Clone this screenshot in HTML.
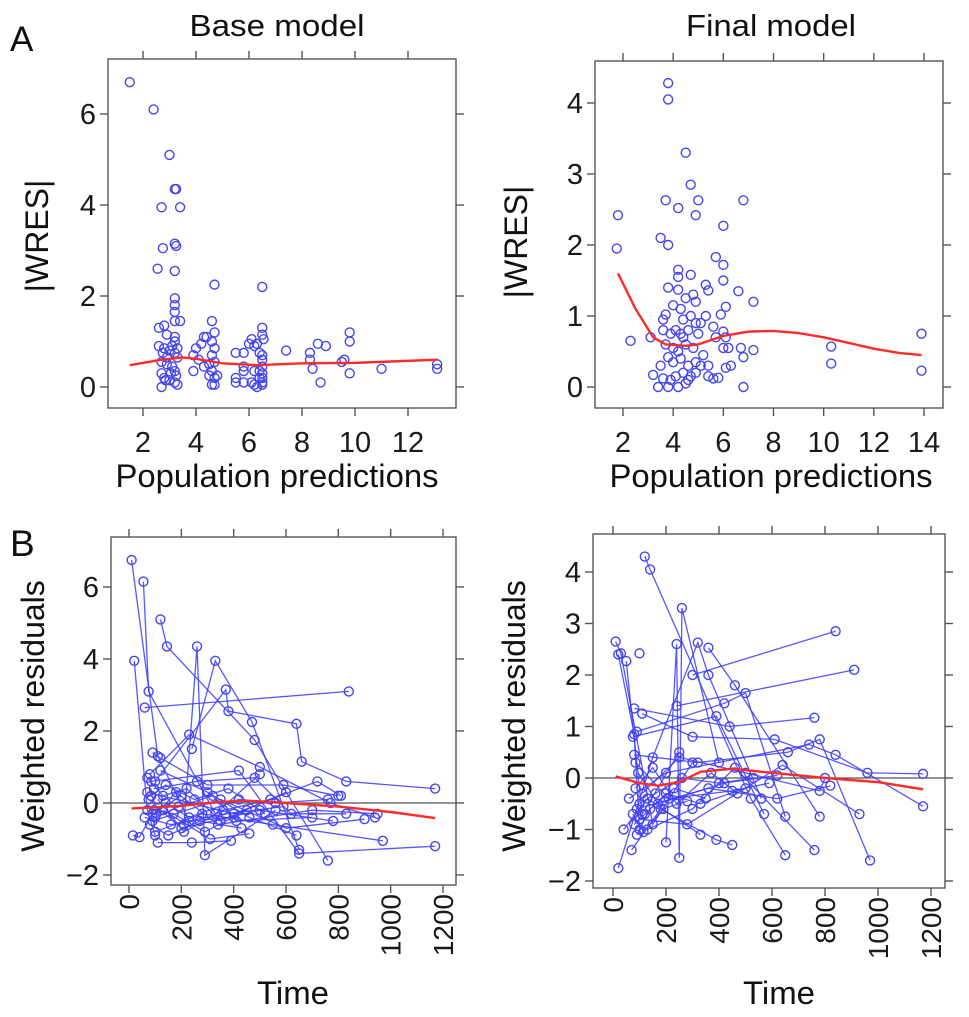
<!DOCTYPE html>
<html><head><meta charset="utf-8">
<style>
html,body{margin:0;padding:0;background:#fff;}
svg{display:block;font-family:"Liberation Sans",Arial,sans-serif;}
</style></head>
<body>
<svg id="fig" width="969" height="1017" viewBox="0 0 969 1017" xmlns="http://www.w3.org/2000/svg">
<text x="10" y="51" font-size="35" fill="#111">A</text>
<text x="10" y="556" font-size="37" fill="#111">B</text>
<text x="277" y="36" font-size="31" text-anchor="middle" textLength="175" lengthAdjust="spacingAndGlyphs" fill="#111">Base model</text>
<text x="771" y="36" font-size="31" text-anchor="middle" textLength="170" lengthAdjust="spacingAndGlyphs" fill="#111">Final model</text>
</svg>
<script>
// ---------- data ----------
const aBasePts = [[1.5,6.7],[2.4,6.1],[3.0,5.1],[3.2,4.35],[3.25,4.35],[2.7,3.95],[3.4,3.95],[2.75,3.05],[3.2,3.15],[3.25,3.1],[2.55,2.6],[3.2,2.55],[4.7,2.25],[6.5,2.2],[3.2,1.95],[3.2,1.8],[3.2,1.65],[3.4,1.45],[3.2,1.45],[2.6,1.3],[2.8,1.35],[2.9,1.15],[3.2,1.1],[3.2,1.0],[2.6,0.9],[2.8,0.85],[3.0,0.8],[3.2,0.75],[3.3,0.65],[2.7,0.55],[2.9,0.5],[3.1,0.45],[3.2,0.35],[2.7,0.3],[2.8,0.2],[3.0,0.15],[3.2,0.1],[2.7,0.0],[3.3,0.05],[2.9,0.65],[3.1,0.9],[3.3,0.85],[2.75,0.75],[3.05,0.3],[2.85,0.15],[3.25,0.25],[3.9,0.7],[4.1,0.6],[3.9,0.35],[4.0,0.85],[4.2,0.95],[4.3,1.1],[4.4,1.1],[4.6,1.45],[4.7,1.2],[4.6,1.0],[4.7,0.85],[4.6,0.7],[4.7,0.55],[4.5,0.5],[4.3,0.45],[4.6,0.35],[4.7,0.2],[4.6,0.05],[4.7,0.05],[4.5,0.25],[4.8,0.25],[5.5,0.75],[5.8,0.75],[5.5,0.2],[5.5,0.1],[5.8,0.1],[5.8,0.45],[5.8,0.35],[6.0,0.95],[6.1,1.05],[6.2,0.9],[6.3,0.95],[6.2,0.35],[6.1,0.1],[6.2,0.05],[6.3,0.0],[6.4,0.75],[6.5,1.3],[6.5,1.15],[6.55,1.05],[6.5,0.7],[6.5,0.6],[6.5,0.45],[6.5,0.3],[6.5,0.2],[6.5,0.1],[6.5,0.05],[6.4,0.2],[6.4,0.35],[7.4,0.8],[8.3,0.75],[8.3,0.6],[8.4,0.4],[8.6,0.95],[8.9,0.9],[8.7,0.1],[9.5,0.55],[9.6,0.6],[9.8,1.2],[9.8,1.0],[9.8,0.3],[11.0,0.4],[13.1,0.5],[13.1,0.4]];
const aBaseSmooth = [[1.5,0.48],[2.7,0.6],[3.5,0.65],[4.0,0.62],[5.0,0.52],[6.3,0.48],[8.0,0.52],[10.0,0.53],[13.1,0.6]];
const aFinalPts = [[1.8,2.42],[1.75,1.95],[2.3,0.65],[3.1,0.7],[3.8,4.28],[3.8,4.05],[4.5,3.3],[4.7,2.85],[3.7,2.63],[4.2,2.52],[5.0,2.63],[4.9,2.42],[6.8,2.63],[6.0,2.27],[3.5,2.1],[3.8,2.0],[5.7,1.83],[6.0,1.72],[4.2,1.65],[4.2,1.55],[4.7,1.58],[3.8,1.4],[4.2,1.37],[5.3,1.44],[5.4,1.36],[6.0,1.5],[6.6,1.35],[7.2,1.2],[6.1,1.13],[5.9,1.02],[5.3,1.0],[4.0,1.15],[4.3,1.1],[4.5,1.25],[4.8,1.3],[4.9,1.2],[3.7,1.02],[3.6,0.95],[4.4,0.95],[4.7,1.0],[4.9,0.9],[5.1,0.9],[3.6,0.8],[3.9,0.75],[4.1,0.8],[4.3,0.75],[4.4,0.7],[4.6,0.8],[5.0,0.75],[5.6,0.85],[5.7,0.7],[6.0,0.78],[6.1,0.7],[3.7,0.6],[4.0,0.55],[4.2,0.5],[4.5,0.6],[4.8,0.55],[5.2,0.45],[6.0,0.55],[6.2,0.55],[3.5,0.3],[3.8,0.42],[4.0,0.35],[4.3,0.4],[4.6,0.3],[4.9,0.35],[5.1,0.3],[5.4,0.3],[3.2,0.17],[3.6,0.12],[3.9,0.1],[4.1,0.15],[4.4,0.2],[4.7,0.15],[4.9,0.2],[3.4,0.0],[3.8,0.0],[4.2,0.0],[4.5,0.05],[4.6,0.1],[5.4,0.15],[5.6,0.12],[5.8,0.13],[6.1,0.27],[6.3,0.3],[6.7,0.55],[6.8,0.42],[7.2,0.52],[6.8,0.0],[10.3,0.57],[10.3,0.33],[13.9,0.75],[13.9,0.23]];
const aFinalSmooth = [[1.8,1.6],[2.5,1.1],[3.2,0.7],[3.7,0.6],[4.5,0.58],[5.0,0.6],[6.0,0.72],[7.0,0.78],[8.0,0.79],[9.0,0.76],[10.0,0.7],[11.0,0.62],[12.0,0.54],[13.0,0.48],[13.9,0.45]];
const bBaseSubjects = [
[[10,6.75],[110,1.3],[230,-0.5],[400,-0.4]],
[[55,6.15],[75,3.1],[330,-0.3],[500,0.8]],
[[20,3.95],[70,-0.2],[100,-0.9]],
[[60,2.65],[840,3.1]],
[[120,5.1],[145,4.35],[480,1.75],[760,-1.6]],
[[210,-0.6],[260,4.35],[290,-1.45],[560,-0.2]],
[[240,1.5],[330,3.95],[470,2.25],[650,-1.3]],
[[100,0.6],[370,3.15],[380,2.55],[640,2.2],[660,1.15],[830,0.6],[1170,0.4]],
[[15,-0.9],[40,-0.95],[90,-0.3],[200,0.2]],
[[90,1.4],[120,1.25],[300,0.5],[590,0.5],[800,0.2]],
[[80,0.8],[230,1.9],[500,1.0],[770,0.0],[940,-0.4]],
[[85,0.6],[420,0.9],[650,-1.4],[1170,-1.2]],
[[100,-0.8],[280,-0.3],[550,-0.6],[970,-1.05]],
[[70,0.3],[400,-0.3],[720,0.6],[810,0.2]],
[[90,-0.5],[350,0.1],[600,-0.7],[900,-0.45]],
[[110,-1.1],[240,-1.1],[390,-1.05]],
[[130,-0.2],[310,-1.0],[460,-0.85]],
[[75,0.1],[200,-0.7],[500,-0.2],[780,-0.5]],
[[95,0.4],[260,0.6],[480,0.7],[620,-0.3],[830,-0.3]],
[[105,-0.3],[180,0.3],[340,-0.6],[700,-0.2],[950,-0.3]],
[[140,0.0],[230,-0.4],[420,0.1],[560,0.0],[760,0.1]],
[[60,-0.4],[160,-0.6],[370,-0.3],[590,-0.1]],
[[120,0.9],[300,0.3],[460,-0.4],[640,-0.9]],
[[80,-0.6],[150,-0.9],[270,-0.5],[430,-0.7]],
[[85,0.2],[140,0.5],[250,0.1],[380,0.4],[520,-0.3]],
[[95,-0.2],[170,-0.3],[290,-0.8],[450,-0.2]],
[[70,0.7],[130,0.2],[220,0.4],[350,-0.5],[600,0.3]],
[[100,-0.4],[190,-0.1],[320,0.2],[410,-0.5],[700,-0.4]],
[[110,0.1],[210,-0.8],[360,-0.2],[540,0.1]]
];
const bBaseSmooth = [[10,-0.15],[100,-0.12],[200,-0.08],[300,0.0],[400,0.05],[460,0.06],[600,0.0],[800,-0.1],[1000,-0.25],[1170,-0.42]];
const bFinalSubjects = [
[[10,2.65],[30,2.42],[150,-0.9],[300,0.3]],
[[20,2.4],[80,0.85],[100,-1.0]],
[[50,2.27],[110,-0.7],[250,0.5]],
[[120,4.3],[140,4.05],[520,-0.4],[650,-1.5]],
[[100,2.42]],
[[200,-1.25],[240,2.6],[250,-1.55],[260,3.3],[400,0.3]],
[[20,-1.75],[150,0.4],[320,2.63],[360,2.0],[560,-0.4]],
[[360,2.53],[460,1.8],[780,-0.75]],
[[300,2.0],[840,2.85]],
[[240,1.4],[910,2.1]],
[[80,1.35],[440,1.0],[760,1.17]],
[[110,1.25],[300,0.8],[610,0.75],[960,0.1],[1170,0.08]],
[[90,0.9],[420,1.45],[500,1.65],[650,-0.75]],
[[75,0.8],[390,1.2],[570,-0.7]],
[[80,0.45],[320,0.3],[660,0.5],[780,0.75],[970,-1.6]],
[[60,-0.4],[200,0.1],[740,0.65],[840,0.45],[1170,-0.55]],
[[40,-1.0],[130,-0.4],[330,-1.1]],
[[70,-1.4],[180,-0.6],[390,-1.2],[450,-1.3]],
[[100,-0.8],[280,-0.9],[640,0.25],[930,-0.7]],
[[90,-0.6],[360,-0.2],[620,-0.4],[820,-0.15]],
[[110,-0.3],[250,0.4],[500,0.1],[780,-0.25],[800,0.0]],
[[85,0.3],[210,-0.4],[450,-0.25],[590,-0.1]],
[[130,-1.0],[300,-0.6],[460,0.2],[760,-1.4]],
[[95,0.1],[170,-0.5],[420,-0.1],[620,0.05]],
[[80,-0.9],[120,-0.7],[200,-0.3],[330,-0.5],[500,-0.2]],
[[90,-1.1],[140,-0.6],[230,-0.2],[350,-0.4]],
[[100,-0.5],[160,-0.3],[260,0.0],[400,-0.1],[530,0.0]],
[[75,-0.7],[115,-1.05],[190,-0.6],[280,-0.45]],
[[85,-0.2],[150,0.2],[240,-0.5],[370,0.1],[470,-0.3]]
];
const bFinalSmooth = [[10,0.03],[100,-0.1],[170,-0.15],[250,-0.08],[330,0.12],[450,0.18],[600,0.1],[800,0.0],[1000,-0.08],[1170,-0.22]];
const xTicksPred1 = [2,4,6,8,10,12];
const xTicksPred2 = [2,4,6,8,10,12,14];
const yTicksA1 = [0,2,4,6];
const yTicksA2 = [0,1,2,3,4];
const xTicksTime = [0,200,400,600,800,1000,1200];
const yTicksB1 = [-2,0,2,4,6];
const yTicksB2 = [-2,-1,0,1,2,3,4];

// ---------- drawing ----------
const NS = "http://www.w3.org/2000/svg";
const svg = document.getElementById('fig');
function mk(tag, attrs, parent){
  const e = document.createElementNS(NS, tag);
  for (const k in attrs) e.setAttribute(k, attrs[k]);
  (parent||svg).appendChild(e);
  return e;
}
function lin(d0,d1,r0,r1){ return v => r0 + (v-d0)*(r1-r0)/(d1-d0); }

function panel(cfg){
  const g = mk('g', {});
  
  
  const sx = lin(cfg.xd[0], cfg.xd[1], cfg.xr[0], cfg.xr[1]);
  const sy = lin(cfg.yd[0], cfg.yd[1], cfg.yr[0], cfg.yr[1]);
  const b = cfg.box;
  const frame = mk('rect', {x:b[0], y:b[1], width:b[2]-b[0], height:b[3]-b[1], fill:'none', stroke:'#555', 'stroke-width':1.4}, g);
  
  
  cfg.xticks.forEach(t => {
    const x = sx(t);
    const tb = mk('line', {x1:x, x2:x, y1:b[3], y2:b[3]+8, stroke:'#555', 'stroke-width':1.4}, g);
    
    
    const tt = mk('line', {x1:x, x2:x, y1:b[1], y2:b[1]-8, stroke:'#555', 'stroke-width':1.4}, g);
    
    
    let lab;
    if (cfg.rotX) {
      lab = mk('text', {x:0, y:0, 'font-size':28, fill:'#1a1a1a', 'text-anchor':'end', transform:`translate(${x+10},${b[3]+9}) rotate(-90)`}, g);
    } else {
      lab = mk('text', {x:x, y:b[3]+44, 'font-size':29, fill:'#1a1a1a', 'text-anchor':'middle'}, g);
    }
    lab.textContent = t;
    
    
  });
  cfg.yticks.forEach(t => {
    const y = sy(t);
    const tl = mk('line', {x1:b[0]-8, x2:b[0], y1:y, y2:y, stroke:'#555', 'stroke-width':1.4}, g);
    
    
    const tr = mk('line', {x1:b[2], x2:b[2]+8, y1:y, y2:y, stroke:'#555', 'stroke-width':1.4}, g);
    
    
    const lab = mk('text', {x:b[0]-12, y:y+10, 'font-size':29, fill:'#1a1a1a', 'text-anchor':'end'}, g);
    lab.textContent = t < 0 ? '\u2212' + Math.abs(t) : t;
    
    
  });
  const xt = mk('text', {x:cfg.xtitle[1], y:cfg.xtitle[2], 'font-size':32, fill:'#111', 'text-anchor':'middle', textLength:cfg.xtitle[3], lengthAdjust:'spacingAndGlyphs'}, g);
  xt.textContent = cfg.xtitle[0];
  
  
  const yt = mk('text', {x:0, y:0, 'font-size':32, fill:'#111', 'text-anchor':'middle', transform:`translate(${cfg.ytitle[1]},${cfg.ytitle[2]}) rotate(-90)`}, g);
  yt.textContent = cfg.ytitle[0];
  
  
  if (cfg.zero) {
    const z = mk('line', {x1:b[0], x2:b[2], y1:sy(0), y2:sy(0), stroke:'#555', 'stroke-width':1.3}, g);
    
    
  }
  const pts = [];
  if (cfg.subjects) {
    cfg.subjects.forEach(s => {
      if (s.length > 1) {
        const pl = mk('polyline', {points: s.map(p => sx(p[0])+','+sy(p[1])).join(' '), fill:'none', stroke:'#3a3aff', 'stroke-opacity':0.85, 'stroke-width':1.3}, g);
        
        
      }
      s.forEach(p => pts.push(p));
    });
  } else {
    cfg.points.forEach(p => pts.push(p));
  }
  pts.forEach(p => {
    const c = mk('circle', {cx:sx(p[0]), cy:sy(p[1]), r:4.5, fill:'none', stroke:'#4646f0', 'stroke-width':1.4}, g);
    
    
  });
  const sm = mk('polyline', {points: cfg.smooth.map(p => sx(p[0])+','+sy(p[1])).join(' '), fill:'none', stroke:'#ff2a2a', 'stroke-width':2.4, 'stroke-linejoin':'round'}, g);
  
  
}

panel({name:'panel-a-base-model', box:[108,59,456,408], xd:[2,12], xr:[143,408], yd:[0,6], yr:[387,114],
  xticks:xTicksPred1, yticks:yTicksA1, points:aBasePts, smooth:aBaseSmooth,
  xtitle:['Population predictions',277,487,323], ytitle:['|WRES|',48,236]});
panel({name:'panel-a-final-model', box:[595,61,943,408], xd:[2,14], xr:[623,924], yd:[0,4], yr:[387,103],
  xticks:xTicksPred2, yticks:yTicksA2, points:aFinalPts, smooth:aFinalSmooth,
  xtitle:['Population predictions',771,487,323], ytitle:['|WRES|',527,242]});
panel({name:'panel-b-base-model', box:[111,537,456,885], xd:[0,1200], xr:[129,443], yd:[0,6], yr:[803,587],
  xticks:xTicksTime, yticks:yTicksB1, subjects:bBaseSubjects, smooth:bBaseSmooth, rotX:true, zero:true,
  xtitle:['Time',293,1004,72], ytitle:['Weighted residuals',44,716]});
panel({name:'panel-b-final-model', box:[593,534,945,888], xd:[0,1200], xr:[613,931], yd:[0,4], yr:[778,572],
  xticks:xTicksTime, yticks:yTicksB2, subjects:bFinalSubjects, smooth:bFinalSmooth, rotX:true, zero:true,
  xtitle:['Time',779,1004,72], ytitle:['Weighted residuals',525,716]});
</script>
</body></html>
